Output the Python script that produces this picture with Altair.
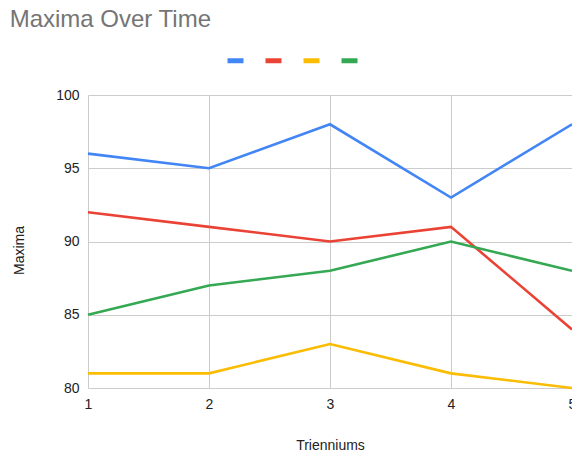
import altair as alt
import pandas as pd

trienniums = [1, 2, 3, 4, 5]
series_names = ["A", "B", "C", "D"]
series_colors = ["#4285F4", "#EA4335", "#FBBC04", "#34A853"]
blue_vals = [96, 95, 98, 93, 98]
red_vals = [92, 91, 90, 91, 84]
yellow_vals = [81, 81, 83, 81, 80]
green_vals = [85, 87, 88, 90, 88]

rows = []
for name, vals in zip(series_names, [blue_vals, red_vals, yellow_vals, green_vals]):
    for t, v in zip(trienniums, vals):
        rows.append({"Trienniums": t, "Maxima": v, "Series": name})
df = pd.DataFrame(rows)

font = "Liberation Sans"

chart = alt.Chart(df).mark_line(strokeWidth=2.6, clip=False).encode(
    x=alt.X("Trienniums:Q",
            scale=alt.Scale(domain=[1, 5], nice=False),
            axis=alt.Axis(values=trienniums, format="d", ticks=False,
                          domain=False, labelFlush=False, labelPadding=9,
                          titlePadding=27,
                          labelFontSize=14, titleFontSize=14,
                          labelColor="#222222", titleColor="#222222",
                          titleFontWeight="normal", gridColor="#cccccc")),
    y=alt.Y("Maxima:Q",
            scale=alt.Scale(domain=[80, 100], nice=False, zero=False),
            axis=alt.Axis(values=[80, 85, 90, 95, 100], ticks=False, domain=False,
                          labelFlush=False, labelPadding=9, titlePadding=29,
                          titleY=155,
                          labelFontSize=14, titleFontSize=14,
                          labelColor="#222222", titleColor="#222222",
                          titleFontWeight="normal", gridColor="#cccccc")),
    color=alt.Color("Series:N",
                    scale=alt.Scale(domain=series_names, range=series_colors),
                    legend=alt.Legend(orient="none", direction="horizontal",
                                      legendX=137, legendY=-45, title=None,
                                      labelExpr="''", labelOffset=0,
                                      symbolType="stroke", symbolSize=256,
                                      symbolStrokeWidth=5, padding=0,
                                      columnPadding=1)),
).properties(
    width=484,
    height=293,
    title=alt.TitleParams("Maxima Over Time", anchor="start", dx=-3, offset=-1,
                          baseline="alphabetic",
                          fontSize=24, font=font, fontWeight="normal",
                          color="#757575"),
    padding={"left": 80, "top": 87, "right": 0, "bottom": 64},
    autosize=alt.AutoSizeParams(type="none"),
).configure(font=font).configure_view(stroke=None).configure_axis(labelFont=font, titleFont=font)

chart.save("out.html", embed_options={"renderer": "svg", "actions": False})
